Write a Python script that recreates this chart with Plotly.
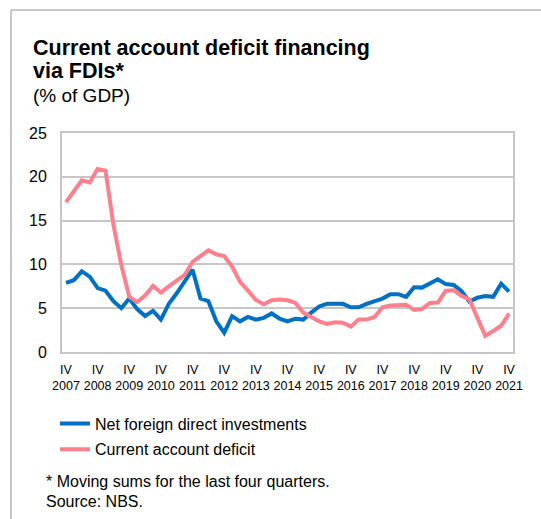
import plotly.graph_objects as go

# ---------------- data ----------------
years = [str(y) for y in range(2007, 2022)]
roman = ["I", "II", "III", "IV"]
quarters = ["IV " + "2007"] + [f"{q} {y}" for y in years[1:] for q in roman]

net_fdi = [7.9, 8.2, 9.2, 8.6, 7.3, 7.0, 5.8, 5.0, 6.1, 4.9, 4.1, 4.7, 3.7, 5.5, 6.7, 8.1,
           9.4, 6.1, 5.8, 3.5, 2.2, 4.1, 3.5, 4.0, 3.7, 3.9, 4.4, 3.8, 3.5, 3.8, 3.7, 4.5,
           5.2, 5.5, 5.5, 5.5, 5.1, 5.1, 5.5, 5.8, 6.1, 6.6, 6.6, 6.3, 7.4, 7.35, 7.85, 8.3,
           7.75, 7.65, 6.95, 5.75, 6.2, 6.4, 6.3, 7.8, 6.9]
ca_deficit = [17.1, 18.3, 19.6, 19.35, 20.9, 20.7, 14.5, 9.9, 6.3, 5.7, 6.45, 7.55, 6.8, 7.5, 8.15, 8.8,
              10.3, 10.95, 11.6, 11.15, 10.95, 9.75, 8.0, 7.0, 5.95, 5.45, 5.9, 6.0, 5.9, 5.6, 4.5, 4.0,
              3.5, 3.2, 3.4, 3.35, 2.9, 3.7, 3.7, 4.0, 5.1, 5.3, 5.3, 5.4, 4.8, 4.9, 5.6, 5.65,
              7.0, 7.05, 6.4, 6.0, 3.9, 1.85, 2.4, 3.0, 4.4]

series_names = ["Net foreign direct investments", "Current account deficit"]
tick_vals = [q for q in quarters if q.startswith("IV ")]
tick_text = ["IV<br>" + q.split(" ")[1] for q in tick_vals]
y_ticks = [0, 5, 10, 15, 20, 25]

title_lines = ["Current account deficit financing", "via FDIs*"]
subtitle = "(% of GDP)"
footnote = ["* Moving sums for the last four quarters.", "Source: NBS."]

# ---------------- layout geometry ----------------
W, H = 541, 519
L, R, T, B = 62, 28, 133, 167
PW, PH = W - L - R, H - T - B

def px(x):
    return (x - L) / PW

def py(y):
    return (H - B - y) / PH

FONT = "Liberation Sans, Arial, sans-serif"
GRID = "#c6c6c6"
BLUE = "#0070c6"
PINK = "#ff808c"

fig = go.Figure()
fig.add_trace(go.Scatter(x=quarters, y=net_fdi, mode="lines", name=series_names[0],
                         line=dict(color=BLUE, width=4), legendgroup="a"))
fig.add_trace(go.Scatter(x=quarters, y=ca_deficit, mode="lines", name=series_names[1],
                         line=dict(color=PINK, width=4), legendgroup="b"))

annotations = []
annotations.append(dict(text="<b>" + title_lines[0] + "</b>", x=px(30.5), y=py(48), xanchor="left",
                        yanchor="middle", showarrow=False, font=dict(size=21.5, color="#000")))
annotations.append(dict(text="<b>" + title_lines[1] + "</b>", x=px(30.5), y=py(70.5), xanchor="left",
                        yanchor="middle", showarrow=False, font=dict(size=21.5, color="#000")))
annotations.append(dict(text=subtitle, x=px(30.5), y=py(95.5), xanchor="left",
                        yanchor="middle", showarrow=False, font=dict(size=19, color="#000")))
annotations.append(dict(text=footnote[0], x=px(44), y=py(482), xanchor="left",
                        yanchor="middle", showarrow=False, font=dict(size=16, color="#000")))
annotations.append(dict(text=footnote[1], x=px(44), y=py(501), xanchor="left",
                        yanchor="middle", showarrow=False, font=dict(size=16, color="#000")))
for a in annotations:
    a["xref"] = "paper"
    a["yref"] = "paper"

shapes = [
    dict(type="line", xref="paper", yref="paper", x0=px(11), x1=px(W + 5), y0=py(10), y1=py(10),
         line=dict(color=GRID, width=2)),
    dict(type="line", xref="paper", yref="paper", x0=px(11), x1=px(11), y0=py(10), y1=py(H + 5),
         line=dict(color=GRID, width=2)),
]

fig.update_layout(
    width=W, height=H,
    margin=dict(l=L, r=R, t=T, b=B, pad=0),
    paper_bgcolor="white", plot_bgcolor="white",
    font=dict(family=FONT, color="#000"),
    showlegend=True,
    legend=dict(x=px(55), y=py(406.5), xanchor="left", yanchor="top",
                font=dict(size=16, color="#000"), bgcolor="rgba(0,0,0,0)",
                traceorder="grouped", tracegroupgap=2, itemwidth=30),
    annotations=annotations,
    shapes=shapes,
    xaxis=dict(type="category", categoryorder="array", categoryarray=quarters,
               range=[-0.5, len(quarters) - 0.5], tickmode="array",
               tickvals=tick_vals, ticktext=tick_text, showgrid=False,
               showline=True, linecolor=GRID, linewidth=2, mirror=True,
               ticks="", tickfont=dict(size=12.5, color="#000"), ticklabelstandoff=5,
               fixedrange=True),
    yaxis=dict(range=[0, 25], tickvals=y_ticks, showgrid=True, gridcolor=GRID, gridwidth=2,
               showline=True, linecolor=GRID, linewidth=2, mirror=True, zeroline=False,
               ticks="", tickfont=dict(size=16, color="#000"), ticklabelstandoff=10,
               fixedrange=True),
)

fig.write_html("out.html")
